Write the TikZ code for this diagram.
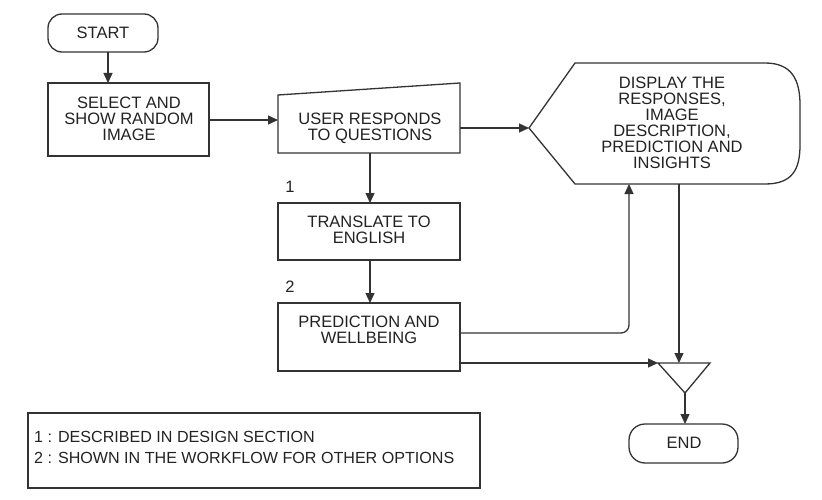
\documentclass[tikz,border=0pt]{standalone}
\usepackage{fontspec}
\setmainfont{Liberation Sans}
\usetikzlibrary{arrows.meta}
\definecolor{linec}{HTML}{333333}
\definecolor{txtc}{HTML}{222222}
\begin{document}
\begin{tikzpicture}[x=1pt,y=-1pt,
  every node/.style={font=\fontsize{16.5}{16}\selectfont, text=txtc, align=center, inner sep=0pt},
  legtxt/.style={font=\fontsize{16.1}{16}\selectfont, anchor=base west, align=left},
  shp/.style={draw=linec, line width=1.3pt},
  arr/.style={draw=linec, line width=1.3pt, -{Triangle[length=10pt,width=9pt]}},
  ln/.style={draw=linec, line width=1.3pt}]
\useasboundingbox (0,0) rectangle (822,500);
% START
\draw[shp, rounded corners=14pt] (48,14) rectangle (158,52);
\node (start) at (103,33) {START};
\coordinate (startb) at (108,52);
% SELECT
\draw[shp] (48,83) rectangle (209,156);
\node (select) at (129,119) {SELECT AND\\SHOW RANDOM\\IMAGE};
\coordinate (selt) at (108,83);
\coordinate (selr) at (209,120);
% USER RESPONDS (manual input)
\draw[shp] (278,95) -- (460,83) -- (460,153) -- (278,153) -- cycle;
\node (user) at (370,128) {USER RESPONDS\\TO QUESTIONS};
\coordinate (userl) at (278,120);
\coordinate (userr) at (460,128);
\coordinate (userb) at (370,153);
% DISPLAY
\draw[shp] (529,128) -- (575,63) -- (765,63) .. controls (792,63) and (800,80) .. (800,105)
  -- (800,145) .. controls (800,170) and (792,184) .. (765,184) -- (575,184) -- cycle;
\node (disp) at (672,123) {DISPLAY THE\\RESPONSES,\\IMAGE\\DESCRIPTION,\\PREDICTION AND\\INSIGHTS};
\coordinate (displ) at (529,128);
\coordinate (dispb1) at (629,184);
\coordinate (dispb2) at (679,184);
% TRANSLATE
\draw[shp] (278,203) rectangle (460,260);
\node (trans) at (369,230) {TRANSLATE TO\\ENGLISH};
\node (l1) at (290,187) {1};
\coordinate (transt) at (370,203);
\coordinate (transb) at (370,260);
% PREDICTION
\draw[shp] (278,303) rectangle (460,371);
\node (pred) at (369,330) {PREDICTION AND\\WELLBEING};
\node (l2) at (290,287) {2};
\coordinate (predt) at (370,303);
\coordinate (predr1) at (460,333);
\coordinate (predr2) at (460,363);
% merge triangle
\draw[shp] (658,363) -- (710,363) -- (685,393) -- cycle;
\coordinate (mergel) at (658,363);
\coordinate (merget) at (679,363);
\coordinate (mergeb) at (685,393);
% END
\draw[shp, rounded corners=16pt] (629,424) rectangle (738,463);
\node (end) at (684,443) {END};
\coordinate (endt) at (685,424);
% legend
\draw[shp] (28,413) rectangle (480,488);
\node[legtxt] (leg1) at (34,442) {1 : DESCRIBED IN DESIGN SECTION};
\node[legtxt] (leg2) at (34,463) {2 : SHOWN IN THE WORKFLOW FOR OTHER OPTIONS};
% connectors
\draw[arr] (startb) -- (selt);
\draw[arr] (selr) -- (userl);
\draw[arr] (userr) -- (displ);
\draw[arr] (userb) -- (transt);
\draw[arr] (transb) -- (predt);
\draw[arr, rounded corners=8pt] (predr1) -- (dispb1 |- predr1) -- (dispb1);
\draw[arr] (predr2) -- (mergel);
\draw[arr] (dispb2) -- (merget);
\draw[arr] (mergeb) -- (endt);
\end{tikzpicture}
\end{document}
